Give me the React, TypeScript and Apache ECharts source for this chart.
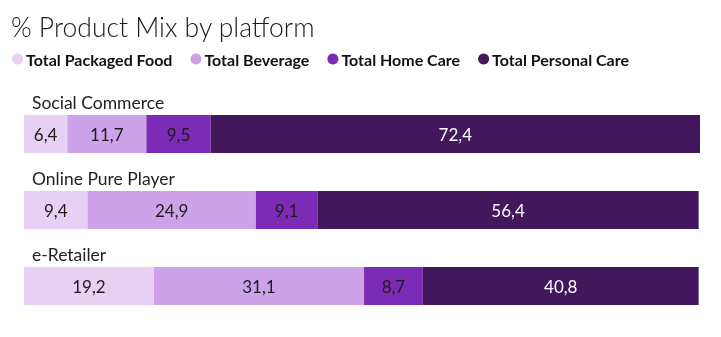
import React, { useEffect, useRef } from "react";
import * as echarts from "echarts";

const platforms = ["Social Commerce", "Online Pure Player", "e-Retailer"];
const seriesNames = ["Total Packaged Food", "Total Beverage", "Total Home Care", "Total Personal Care"];
const packagedFood = [6.4, 9.4, 19.2];
const beverage = [11.7, 24.9, 31.1];
const homeCare = [9.5, 9.1, 8.7];
const personalCare = [72.4, 56.4, 40.8];
const colors = ["#e6d0f3", "#cda2e9", "#7c2bb6", "#43175b"];
const labelColors = ["#1c1c1c", "#1c1c1c", "#1c1c1c", "#ffffff"];

const FONT = "Lato, 'Open Sans', sans-serif";

export default function App() {
  const ref = useRef<HTMLDivElement>(null);
  useEffect(() => {
    if (!ref.current) return;
    const chart = echarts.init(ref.current, null, { renderer: "svg" });
    const values = [packagedFood, beverage, homeCare, personalCare];
    chart.setOption({
      animation: false,
      title: {
        text: "% Product Mix by platform",
        left: 6,
        top: 8,
        textStyle: { fontFamily: FONT, fontSize: 26.5, fontWeight: 300, color: "#1a1a1a" },
      },
      legend: {
        left: 7,
        top: 46,
        icon: "circle",
        itemWidth: 11,
        itemHeight: 11,
        itemGap: 18,
        data: seriesNames,
        textStyle: { fontFamily: FONT, fontSize: 16, fontWeight: "bold", color: "#111", padding: [0, 0, 0, -2] },
      },
      grid: { left: 24, right: 21, top: 96, bottom: 13 },
      xAxis: { type: "value", min: 0, max: 100, show: false },
      yAxis: {
        type: "category",
        inverse: true,
        data: platforms,
        axisLine: { show: false },
        axisTick: { show: false },
        axisLabel: {
          inside: true,
          align: "left",
          verticalAlign: "bottom",
          padding: [0, 0, 23, 0],
          fontFamily: FONT,
          fontSize: 17.5,
          color: "#222",
        },
        z: 10,
      },
      series: seriesNames.map((name, i) => ({
        name,
        type: "bar",
        stack: "total",
        barWidth: 38,
        data: values[i],
        itemStyle: { color: colors[i] },
        label: {
          show: true,
          position: "inside",
          fontFamily: FONT,
          fontSize: 17,
          color: labelColors[i],
          formatter: (p: any) => String(p.value).replace(".", ","),
        },
      })),
      color: colors,
    });
    return () => chart.dispose();
  }, []);
  return <div ref={ref} style={{ position: "fixed", left: 0, top: 0, width: 721, height: 337 }} />;
}
